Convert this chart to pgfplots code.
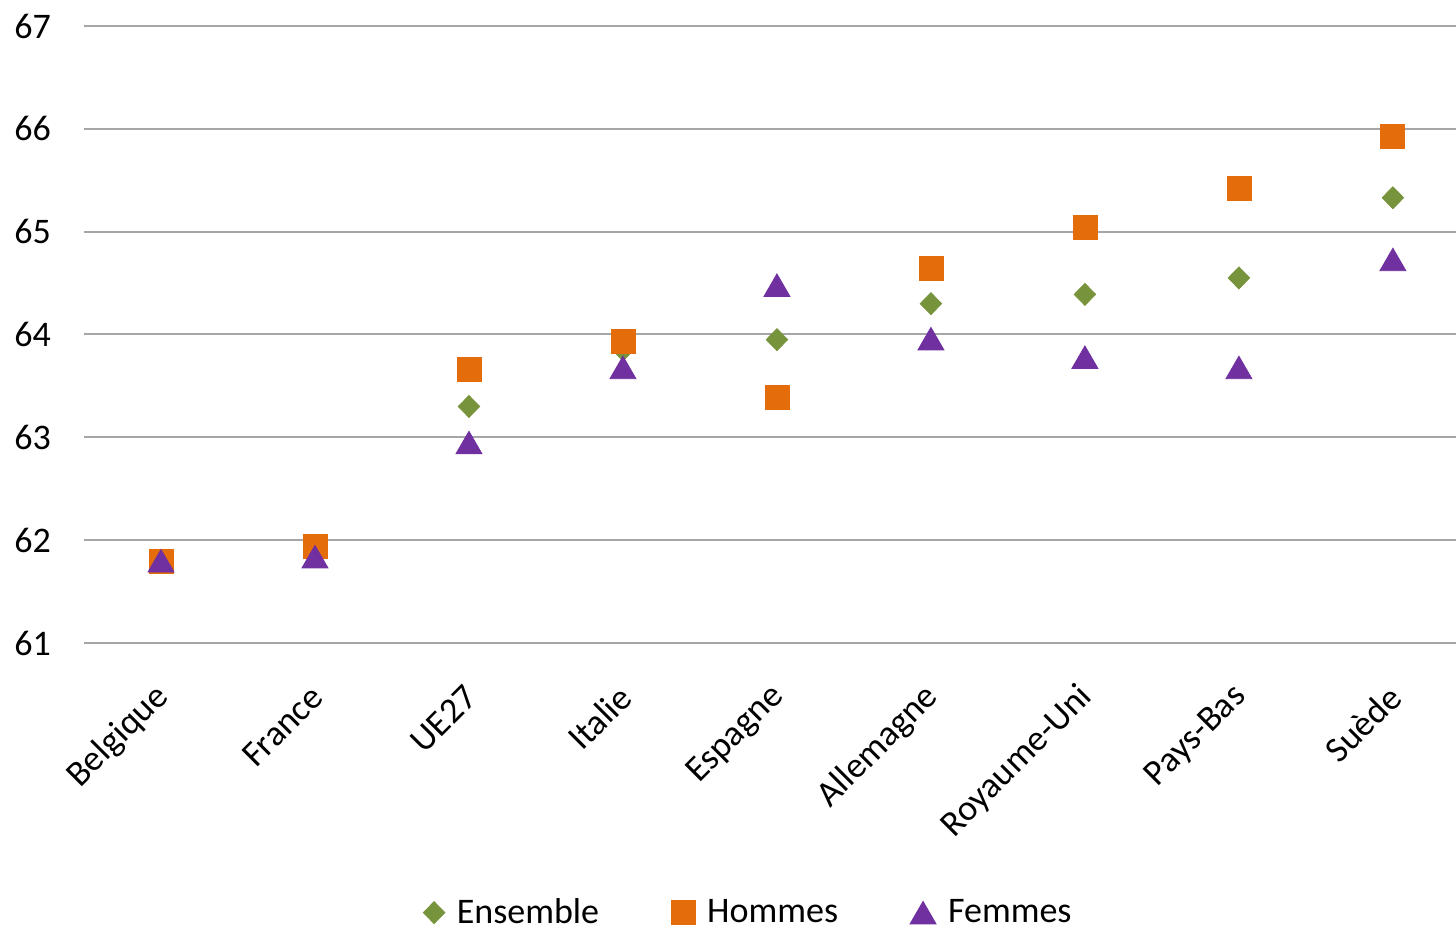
\documentclass[border=0pt]{standalone}
\usepackage{pgfplots}
\pgfplotsset{compat=1.18}
\usepackage{fontspec}
\setmainfont{Carlito}
\definecolor{cgreen}{HTML}{77933C}
\definecolor{corange}{HTML}{E46C0A}
\definecolor{cpurple}{HTML}{7030A0}
\definecolor{cgrid}{HTML}{A6A6A6}
\begin{document}
\begin{tikzpicture}
\begin{axis}[
  at={(0,0)}, anchor=south west,
  scale only axis,
  width=686pt, height=308.5pt,
  xmin=-0.5, xmax=8.41,
  ymin=61, ymax=67,
  ytick={61,62,...,67},
  xtick={0,1,...,8},
  xticklabels={Belgique,France,UE27,Italie,Espagne,Allemagne,Royaume-Uni,Pays-Bas,Suède},
  axis line style={draw=none},
  major tick length=0pt,
  ymajorgrids,
  grid style={cgrid, line width=1pt},
  font=\fontsize{18}{20}\selectfont,
  /pgf/number format/assume math mode=true,
  yticklabel style={xshift=-13pt},
  xticklabel style={rotate=45, anchor=east, yshift=-18pt, xshift=-13pt},
  legend style={draw=none, at={(0.485,-0.437)}, anchor=center, legend columns=3,
    /tikz/every odd column/.append style={column sep=4pt},
    /tikz/every even column/.append style={column sep=34pt}},
  legend cell align=left,
  clip=false,
]
\addplot[only marks, mark=diamond*, mark size=5.5pt, mark options={fill=cgreen, draw=cgreen, xscale=1.3}] coordinates {
(0,61.80) (1,61.88) (2,63.30) (3,63.85) (4,63.95) (5,64.30) (6,64.39) (7,64.55) (8,65.33)};
\addlegendentry{Ensemble}
\addplot[only marks, mark=square*, mark size=6pt, mark options={fill=corange, draw=corange}] coordinates {
(0,61.79) (1,61.94) (2,63.66) (3,63.93) (4,63.39) (5,64.64) (6,65.04) (7,65.42) (8,65.93)};
\addlegendentry{Hommes}
\addplot[only marks, mark=triangle*, mark size=7.5pt, mark options={fill=cpurple, draw=cpurple, yshift=-1.9pt}] coordinates {
(0,61.80) (1,61.84) (2,62.95) (3,63.68) (4,64.48) (5,63.96) (6,63.78) (7,63.68) (8,64.73)};
\addlegendentry{Femmes}
\end{axis}
\pgfresetboundingbox
\path[use as bounding box] (-42pt,-143.5pt) rectangle (686pt,321.5pt);
\end{tikzpicture}
\end{document}
